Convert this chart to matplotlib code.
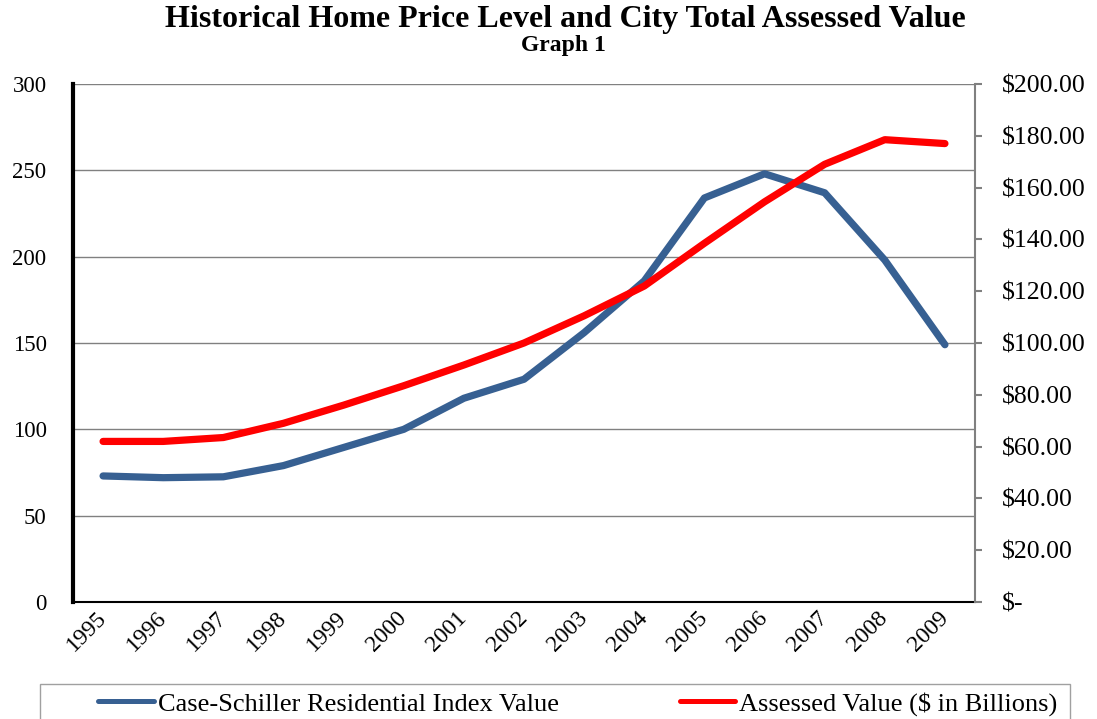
import matplotlib
matplotlib.use("Agg")
import matplotlib.pyplot as plt
from matplotlib.ticker import FuncFormatter, MultipleLocator
from matplotlib.patches import Rectangle

years = ["1995", "1996", "1997", "1998", "1999", "2000", "2001", "2002",
         "2003", "2004", "2005", "2006", "2007", "2008", "2009"]
case_schiller = [73, 72, 72.5, 79, 89.5, 100, 118, 129, 156, 186, 234, 248, 237, 198, 149]
assessed_value = [62, 62, 63.5, 69, 76, 83.5, 91.5, 100, 110.5, 122, 138.5, 154.5, 169, 178.5, 177]

title = "Historical Home Price Level and City Total Assessed Value"
subtitle = "Graph 1"
label_cs = "Case-Schiller Residential Index Value"
label_av = "Assessed Value ($ in Billions)"

plt.rcParams['font.family'] = ['Liberation Serif', 'DejaVu Serif']

W, H = 1097, 719
fig = plt.figure(figsize=(W / 100, H / 100), dpi=100)
ax = fig.add_axes([73 / W, 1 - 602 / H, (975 - 73) / W, (602 - 84) / H])
ax2 = ax.twinx()

x = list(range(len(years)))
blue = "#376092"
red = "#FF0000"
l1, = ax.plot(x, case_schiller, color=blue, lw=5.2, solid_capstyle='round',
              solid_joinstyle='round', zorder=3)
l2, = ax2.plot(x, assessed_value, color=red, lw=5.2, solid_capstyle='round',
               solid_joinstyle='round', zorder=3)

ax.set_xlim(-0.5, len(years) - 0.5)
ax.set_ylim(0, 300)
ax2.set_ylim(0, 200)
ax.yaxis.set_major_locator(MultipleLocator(50))
ax2.yaxis.set_major_locator(MultipleLocator(20))

ax.grid(axis='y', color='#808080', lw=1.0)
ax.set_axisbelow(True)

ax.set_xticks(x)
ax.set_xticklabels(years, rotation=45, ha='right', va='center',
                   rotation_mode='anchor', fontsize=17)
ax.tick_params(axis='x', length=0, pad=9)
ax.tick_params(axis='y', length=0, pad=19, labelsize=16.5)

def money(v, pos):
    if abs(v) < 1e-9:
        return "$-"
    return "${:,.2f}".format(v)

ax2.yaxis.set_major_formatter(FuncFormatter(money))
ax2.tick_params(axis='y', length=5, width=1.5, color='#808080', pad=14, labelsize=18.5)

for a in (ax, ax2):
    a.spines['top'].set_visible(False)
ax.spines['left'].set_linewidth(3)
ax.spines['left'].set_color('black')
ax.spines['bottom'].set_linewidth(1.5)
ax.spines['bottom'].set_color('black')
ax.spines['right'].set_visible(False)
ax2.spines['left'].set_visible(False)
ax2.spines['bottom'].set_visible(False)
ax2.spines['right'].set_color('#808080')
ax2.spines['right'].set_linewidth(1.5)

fig.text(565 / W, 1 - 19 / H, title, ha='center', va='center', fontsize=23, fontweight='bold')
fig.text(563 / W, 1 - 45 / H, subtitle, ha='center', va='center', fontsize=17, fontweight='bold')

# legend frame (extends past the bottom edge like the reference)
fig.patches.append(Rectangle((40 / W, -0.02), (1070 - 40) / W, 1 - 684 / H + 0.02,
                             transform=fig.transFigure, fill=False,
                             edgecolor='#a0a0a0', lw=1))
leg = fig.legend([l1, l2], [label_cs, label_av], loc='center',
                 bbox_to_anchor=(578 / W, 1 - 704 / H),
                 ncol=2, fontsize=19, frameon=False,
                 handlelength=2.1, handletextpad=0.15, borderaxespad=0,
                 borderpad=0, columnspacing=4.6)
for h in leg.get_lines():
    h.set_linewidth(3.6)

fig.savefig("out.png", dpi=100)
